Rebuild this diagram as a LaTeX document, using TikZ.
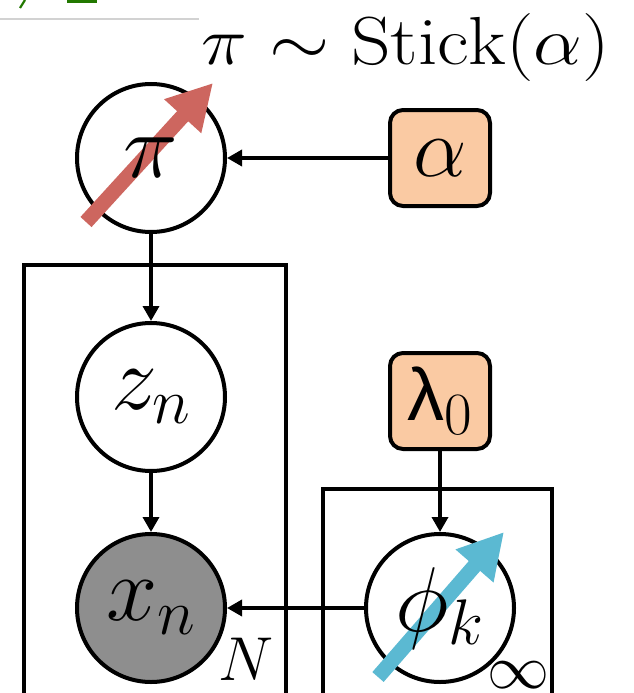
\RequirePackage{fix-cm}
\documentclass[tikz,border=0pt]{standalone}
\usepackage{fontspec}
\newfontfamily\greekfont{Liberation Sans}
\usetikzlibrary{arrows.meta, positioning}
\definecolor{hyperfill}{RGB}{250,202,163}
\definecolor{obsgray}{RGB}{142,142,142}
\definecolor{stickred}{RGB}{205,102,95}
\definecolor{atomblue}{RGB}{91,185,210}
\definecolor{slidegreen}{RGB}{34,120,0}
\tikzset{
    edge/.style={-{Triangle[length=15pt, width=16pt]}, line width=3.5pt},
    bigarrow/.style={-{Triangle[length=45pt, width=47pt]}, line width=15pt}
}

\begin{document}
\begin{tikzpicture}[x=1pt, y=-1pt,
  latent/.style={circle, draw, line width=4pt, fill=white, minimum size=148pt, inner sep=0pt, font=\fontsize{92}{96}\selectfont},
  observed/.style={latent, fill=obsgray},
  varname/.style={inner sep=0pt, font=\fontsize{92}{96}\selectfont},
  hyper/.style={rectangle, draw, line width=4pt, rounded corners=13pt, fill=hyperfill, minimum width=100pt, minimum height=96pt, inner sep=0pt, font=\fontsize{85}{90}\selectfont},
  plate/.style={line width=4pt},
  platelabel/.style={anchor=base, inner sep=0pt, font=\fontsize{62}{66}\selectfont}]
  \useasboundingbox (0,0) rectangle (633,693);
  % slide remnants
  \draw[gray!35, line width=1.2pt] (0,19) -- (199,19);
  \draw[slidegreen, line width=2.2pt] (25,0) -- (20,8);
  \fill[slidegreen] (67,0) rectangle (97,3.5);
  % plates
  \draw[plate] (24,265) rectangle (286,700);
  \draw[plate] (323,489) rectangle (552,700);
  % nodes
  \node[latent] (pi) at (151,158) {};
  \node[latent, below=87pt of pi] (zn) {$z_n$};
  \node[observed, below=59pt of zn] (xn) {$x_n$};
  \node[latent, right=137pt of xn] (phi) {};
  \node[hyper, right=161pt of pi] (alpha) {$\alpha$};
  \node[hyper, above=81pt of phi] (lambda) {{\fontsize{74}{80}\selectfont\greekfont λ}\raisebox{-14pt}{\fontsize{60}{64}\selectfont 0}};
  \node[anchor=base, inner sep=0pt, font=\fontsize{68}{72}\selectfont] (prior) at (406,65) {\scalebox{1.14}[1]{$\pi \sim \mathrm{Stick}(\alpha)$}};
  \node[platelabel] (nlabel) at (246,680) {$N$};
  \node[platelabel] (inflabel) at (518,688) {$\infty$};
  % edges
  \draw[edge] (pi) -- (zn);
  \draw[edge] (zn) -- (xn);
  \draw[edge] (alpha) -- (pi);
  \draw[edge] (lambda) -- (phi);
  \draw[edge] (phi) -- (xn);
  % big arrows
  \draw[bigarrow, stickred] ([shift={(-65,64)}]pi.center) -- ([shift={(62,-75)}]pi.center);
  \draw[bigarrow, atomblue] ([shift={(-62,69)}]phi.center) -- ([shift={(64,-76)}]phi.center);
  \node[varname] (pisym) at (pi) {$\pi$};
  \node[varname] (phisym) at (phi) {$\phi_k$};
\end{tikzpicture}
\end{document}
